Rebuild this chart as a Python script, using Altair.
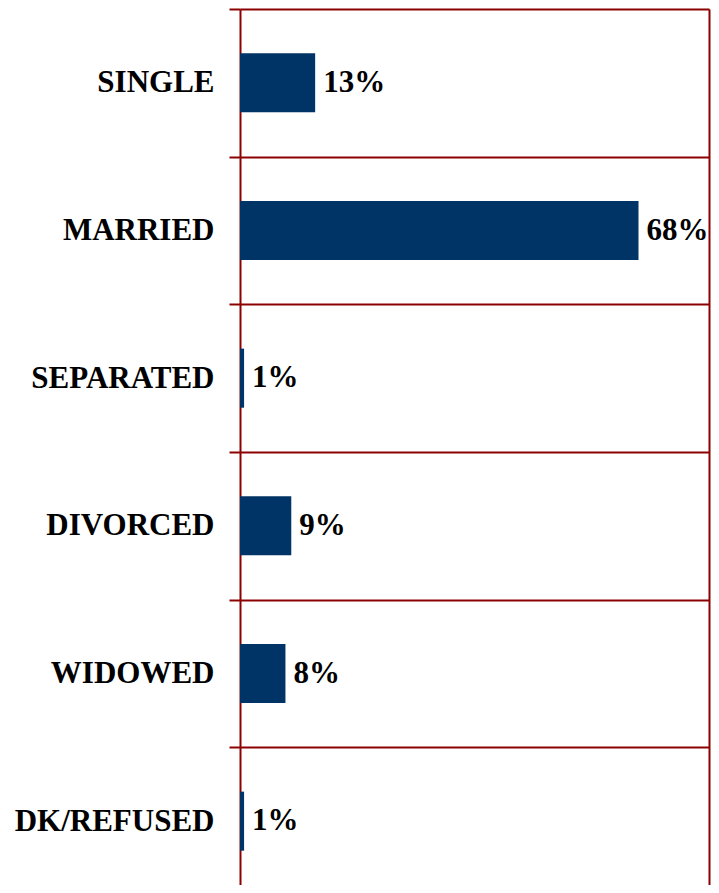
import altair as alt
import pandas as pd

categories = ["SINGLE", "MARRIED", "SEPARATED", "DIVORCED", "WIDOWED", "DK/REFUSED"]
values = [12.9, 68.4, 0.7, 8.8, 7.8, 0.7]
labels = ["13%", "68%", "1%", "9%", "8%", "1%"]

df = pd.DataFrame({"cat": categories, "val": values, "lab": labels})

RED = "#8B0000"
NAVY = "#003366"
FONT = "Liberation Serif"

yscale = alt.Scale(paddingInner=0, paddingOuter=0, range=[0, 886])

y_left = alt.Y(
    "cat:N",
    sort=categories,
    title=None,
    scale=yscale,
    axis=alt.Axis(
        tickBand="extent",
        grid=True,
        gridColor=RED,
        gridWidth=2,
        domainColor=RED,
        domainWidth=2,
        tickColor=RED,
        tickWidth=2,
        tickSize=11,
        labelPadding=15,
        labelFont=FONT,
        labelFontSize=31,
        labelFontWeight="bold",
        labelColor="black",
        labelLimit=400,
    ),
)
y_right = alt.Y(
    "cat:N",
    sort=categories,
    title=None,
    scale=yscale,
    axis=alt.Axis(
        orient="right",
        labels=False,
        ticks=False,
        grid=False,
        domainColor=RED,
        domainWidth=2,
    ),
)
x = alt.X("val:Q", title=None, scale=alt.Scale(domain=[0, 80.5], nice=False), axis=None)

bars = alt.Chart(df).mark_bar(color=NAVY, height=alt.RelativeBandSize(0.4)).encode(x=x, y=y_left)
text = alt.Chart(df).mark_text(
    align="left", baseline="middle", dx=8, font=FONT, fontSize=31, fontWeight="bold", color="black"
).encode(x=x, y=y_right, text="lab:N")

chart = (
    alt.layer(bars, text)
    .resolve_axis(y="independent")
    .properties(
        width=469,
        height=876,
        autosize=alt.AutoSizeParams(type="none"),
        padding={"left": 232, "top": 1, "right": 2, "bottom": 0},
    )
    .configure_view(strokeWidth=0)
)

chart.save("out.html", embed_options={"renderer": "svg", "actions": False})
